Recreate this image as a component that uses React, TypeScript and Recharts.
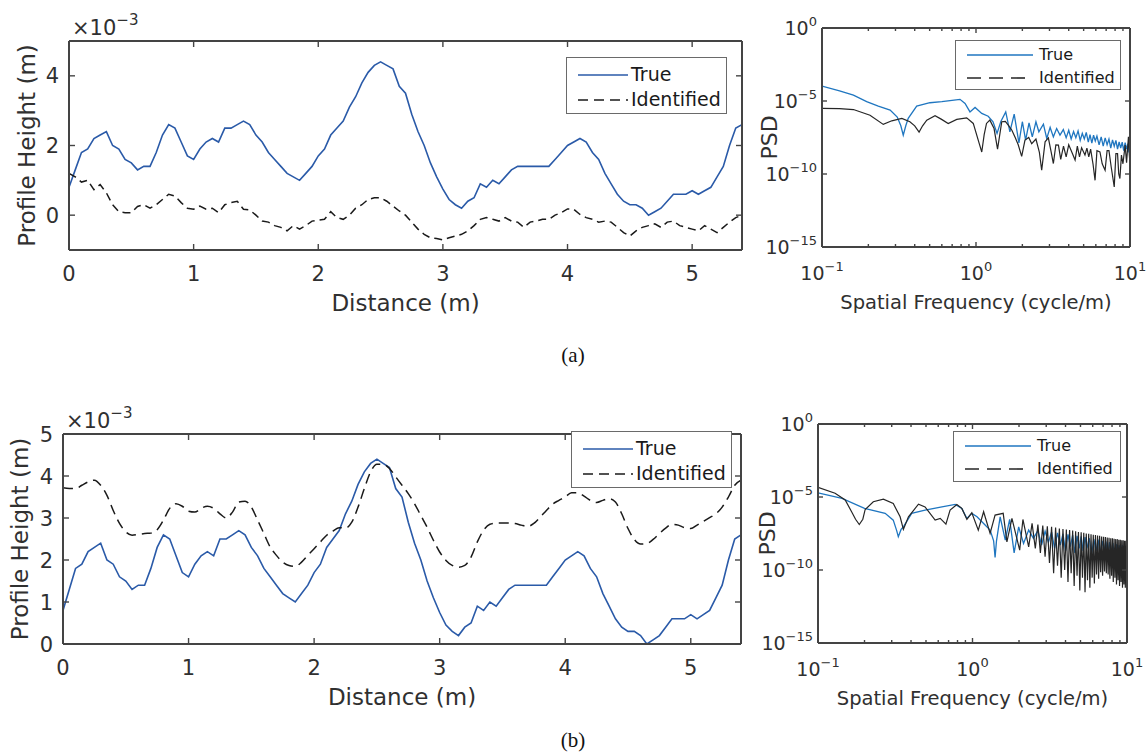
import React from "react";
import { LineChart, Line, XAxis, YAxis, Legend } from "recharts";

const FONT = "'DejaVu Sans', 'Noto Sans', sans-serif";
const AXIS_COLOR = "#444444";
const TEXT_COLOR = "#303030";
const BLUE_PROFILE = "#2a5aa8";
const BLUE_PSD = "#1f76c0";
const BLACK = "#1a1a1a";

const seriesNames = ["True", "Identified"];

// ---- road profile, height in units of 1e-3 m ----
const distance = [
  0, 0.05, 0.1, 0.15, 0.2, 0.25, 0.3, 0.35, 0.4, 0.45, 0.5, 0.55, 0.6, 0.65, 0.7, 0.75, 0.8, 0.85, 0.9, 0.95,
  1, 1.05, 1.1, 1.15, 1.2, 1.25, 1.3, 1.35, 1.4, 1.45, 1.5, 1.55, 1.6, 1.65, 1.7, 1.75, 1.8, 1.85, 1.9, 1.95,
  2, 2.05, 2.1, 2.15, 2.2, 2.25, 2.3, 2.35, 2.4, 2.45, 2.5, 2.55, 2.6, 2.65, 2.7, 2.75, 2.8, 2.85, 2.9, 2.95,
  3, 3.05, 3.1, 3.15, 3.2, 3.25, 3.3, 3.35, 3.4, 3.45, 3.5, 3.55, 3.6, 3.65, 3.7, 3.75, 3.8, 3.85, 3.9, 3.95,
  4, 4.05, 4.1, 4.15, 4.2, 4.25, 4.3, 4.35, 4.4, 4.45, 4.5, 4.55, 4.6, 4.65, 4.7, 4.75, 4.8, 4.85, 4.9, 4.95,
  5, 5.05, 5.1, 5.15, 5.2, 5.25, 5.3, 5.35, 5.4,
];

const trueProfile = [
  0.8, 1.3, 1.8, 1.9, 2.2, 2.3, 2.4, 2.0, 1.9, 1.6, 1.5, 1.3, 1.4, 1.4, 1.8, 2.3, 2.6, 2.5, 2.1, 1.7,
  1.6, 1.9, 2.1, 2.2, 2.1, 2.5, 2.5, 2.6, 2.7, 2.6, 2.3, 2.1, 1.8, 1.6, 1.4, 1.2, 1.1, 1.0, 1.2, 1.4,
  1.7, 1.9, 2.3, 2.5, 2.7, 3.1, 3.4, 3.8, 4.1, 4.3, 4.4, 4.3, 4.2, 3.7, 3.5, 2.9, 2.4, 2.0, 1.5, 1.1,
  0.75, 0.45, 0.3, 0.2, 0.4, 0.5, 0.9, 0.8, 1.0, 0.9, 1.1, 1.3, 1.4, 1.4, 1.4, 1.4, 1.4, 1.4, 1.6, 1.8,
  2.0, 2.1, 2.2, 2.1, 1.8, 1.6, 1.2, 0.9, 0.6, 0.4, 0.3, 0.3, 0.2, 0.0, 0.1, 0.2, 0.4, 0.6, 0.6, 0.6,
  0.7, 0.6, 0.7, 0.8, 1.1, 1.4, 2.0, 2.5, 2.6,
];

const identifiedA = [
  1.2, 1.1, 0.95, 1.0, 0.73, 0.88, 0.64, 0.3, 0.1, 0.07, 0.07, 0.25, 0.3, 0.2, 0.3, 0.45, 0.6, 0.55, 0.36, 0.2,
  0.17, 0.26, 0.17, 0.2, 0.07, 0.3, 0.36, 0.4, 0.17, 0.15, 0.0, -0.17, -0.2, -0.3, -0.35, -0.45, -0.3, -0.4, -0.3, -0.17,
  -0.14, -0.12, 0.1, -0.07, -0.12, 0.0, 0.2, 0.3, 0.45, 0.5, 0.5, 0.4, 0.26, 0.12, 0.0, -0.2, -0.4, -0.55, -0.65, -0.67,
  -0.71, -0.65, -0.6, -0.55, -0.45, -0.3, -0.12, -0.07, -0.12, -0.17, -0.07, -0.17, -0.2, -0.35, -0.2, -0.17, -0.12, -0.12, 0.0, 0.07,
  0.18, 0.17, 0.02, -0.07, -0.12, -0.2, -0.17, -0.2, -0.35, -0.5, -0.6, -0.45, -0.35, -0.3, -0.25, -0.35, -0.2, -0.17, -0.3, -0.35,
  -0.4, -0.45, -0.3, -0.4, -0.5, -0.35, -0.2, -0.07, 0.0,
];

const identifiedB = [
  3.72, 3.7, 3.7, 3.78, 3.86, 3.9, 3.78, 3.54, 3.18, 2.87, 2.67, 2.59, 2.61, 2.63, 2.64, 2.72, 2.95, 3.23, 3.34, 3.28,
  3.16, 3.14, 3.23, 3.28, 3.23, 3.1, 3.0, 3.14, 3.38, 3.4, 3.26, 2.95, 2.63, 2.31, 2.11, 1.95, 1.87, 1.85, 1.95, 2.11,
  2.27, 2.43, 2.59, 2.69, 2.77, 2.76, 2.9, 3.26, 3.7, 4.1, 4.28, 4.28, 4.18, 3.98, 3.78, 3.58, 3.34, 3.06, 2.78, 2.47,
  2.19, 1.99, 1.87, 1.83, 1.87, 2.07, 2.43, 2.71, 2.85, 2.88, 2.88, 2.88, 2.87, 2.83, 2.8, 2.87, 3.02, 3.18, 3.33, 3.42,
  3.5, 3.6, 3.6, 3.52, 3.42, 3.37, 3.42, 3.46, 3.38, 3.1, 2.75, 2.49, 2.38, 2.39, 2.49, 2.63, 2.76, 2.85, 2.83, 2.77,
  2.75, 2.83, 2.92, 3.01, 3.1, 3.26, 3.5, 3.78, 3.9,
];

const profileTicksX = [0, 1, 2, 3, 4, 5];
const profileTicksYA = [0, 2, 4];
const profileTicksYB = [0, 1, 2, 3, 4, 5];

// ---- PSD: [spatial frequency (cycle/m), PSD] ----
const psdTrueA: [number, number][] = [
  [0.1, 1.05e-4], [0.13, 5e-5], [0.16, 2.5e-5], [0.195, 9e-6], [0.232, 4.5e-6], [0.277, 2.4e-6], [0.308, 8e-7],
  [0.325, 2e-7], [0.337, 4.6e-8], [0.35, 2e-7], [0.363, 6.5e-7], [0.412, 4.5e-6], [0.502, 7.6e-6], [0.6, 9e-6],
  [0.678, 1.05e-5], [0.787, 1.3e-5], [0.849, 6.8e-6], [0.914, 1.8e-6], [0.986, 3.6e-6], [1.09, 1.4e-6], [1.2, 9e-7],
  [1.29, 3.8e-7], [1.37, 6e-8], [1.45, 4e-7], [1.56, 1.8e-6], [1.66, 7.8e-8], [1.77, 1.26e-6], [1.9, 1.35e-8],
  [2.0, 3.8e-7], [2.1, 2.1e-8], [2.21, 3.2e-7], [2.32, 3.5e-8], [2.45, 3.8e-7], [2.56, 7.8e-8], [2.74, 2.6e-7],
  [2.88, 2.7e-8], [3.03, 1.55e-7], [3.18, 3.5e-8], [3.34, 1.3e-7], [3.51, 4.6e-8], [3.69, 1.1e-7], [3.85, 3e-8],
  [4.0, 1e-7], [4.15, 2.5e-8], [4.3, 8e-8], [4.45, 3e-8], [4.6, 9e-8], [4.75, 2e-8], [4.9, 6e-8], [5.05, 2.5e-8],
  [5.2, 7e-8], [5.36, 1.5e-8], [5.5, 5e-8], [5.65, 1.3e-8], [5.8, 4.5e-8], [5.95, 1.8e-8], [6.1, 4e-8], [6.3, 1e-8],
  [6.5, 3.5e-8], [6.7, 8e-9], [6.9, 3e-8], [7.1, 1e-8], [7.3, 2.5e-8], [7.5, 6e-9], [7.7, 2.2e-8], [7.9, 8e-9],
  [8.1, 2e-8], [8.3, 5e-9], [8.5, 1.6e-8], [8.7, 6e-9], [8.9, 1.5e-8], [9.1, 4e-9], [9.3, 1.4e-8], [9.5, 5e-9],
  [9.7, 1.2e-8], [9.85, 3e-9], [10, 8e-9],
];

const psdIdentA: [number, number][] = [
  [0.1, 3.1e-6], [0.13, 3.0e-6], [0.16, 2.6e-6], [0.205, 1.07e-6], [0.25, 2.5e-7], [0.284, 4.4e-7], [0.33, 6.5e-7],
  [0.372, 3.8e-7], [0.4, 2e-7], [0.427, 7.4e-8], [0.45, 2e-7], [0.479, 4.9e-7], [0.542, 9.8e-7], [0.598, 5.5e-7],
  [0.66, 2.9e-7], [0.75, 5.5e-7], [0.87, 7e-7], [0.96, 2.9e-7], [1.05, 1.2e-8], [1.09, 3.2e-9], [1.13, 5e-8],
  [1.17, 2.9e-7], [1.23, 4.9e-7], [1.31, 1.3e-7], [1.38, 5e-9], [1.47, 3.8e-7], [1.55, 4e-7], [1.62, 2.2e-7],
  [1.71, 1e-7], [1.8, 3e-8], [1.88, 1e-8], [1.98, 1.6e-9], [2.08, 2.1e-8], [2.2, 3.2e-8], [2.3, 1.2e-8],
  [2.45, 2.5e-8], [2.58, 3e-9], [2.67, 1.8e-10], [2.81, 1.6e-8], [2.95, 3e-8], [3.08, 3e-9], [3.18, 5.2e-10],
  [3.3, 1e-8], [3.43, 9.5e-9], [3.55, 1e-9], [3.7, 8e-9], [3.85, 1.5e-9], [4.0, 1e-8], [4.2, 3e-9], [4.4, 9e-10],
  [4.55, 8e-9], [4.7, 1.5e-9], [4.85, 6.3e-9], [5.1, 2e-9], [5.25, 6e-9], [5.4, 1.5e-9], [5.55, 5e-9],
  [5.75, 5e-10], [5.93, 3.7e-11], [6.1, 4e-9], [6.38, 3.3e-9], [6.6, 5e-10], [6.89, 1.8e-10], [7.1, 4e-9],
  [7.3, 4e-9], [7.55, 3e-10], [7.9, 1.3e-11], [8.1, 2.5e-9], [8.3, 2.5e-9], [8.45, 1e-10], [8.6, 4.9e-11],
  [8.8, 2e-9], [9.0, 5e-10], [9.3, 9.5e-9], [9.5, 6e-10], [9.77, 3.5e-8], [9.9, 2e-9], [10, 5.2e-10],
];

const psdTrueB: [number, number][] = [
  [0.1, 1.95e-5], [0.143, 8e-6], [0.2, 1.66e-6], [0.272, 7.6e-7], [0.307, 2.6e-7], [0.323, 5e-8], [0.331, 1.9e-8],
  [0.345, 6e-8], [0.357, 9e-8], [0.404, 7.6e-7], [0.493, 1.26e-6], [0.634, 2.1e-6], [0.773, 3.1e-6],
  [0.853, 1.66e-6], [0.92, 3.4e-7], [0.99, 7.6e-7], [1.07, 4.4e-7], [1.18, 1.55e-7], [1.3, 5.4e-8], [1.37, 1e-8],
  [1.4, 7.2e-10], [1.43, 1e-8], [1.51, 4.4e-7], [1.63, 1.1e-8], [1.74, 2.9e-7], [1.86, 1.5e-9], [1.99, 9e-8],
  [2.14, 6.6e-9], [2.31, 5.4e-8], [2.48, 1.45e-8], [2.65, 5e-8], [2.8, 5e-9], [2.95, 4.5e-8], [3.1, 8e-9],
  [3.25, 4e-8], [3.4, 3e-9], [3.55, 3.5e-8], [3.7, 5e-9], [3.85, 3e-8], [4.0, 2e-9], [4.15, 2.8e-8], [4.3, 4e-9],
  [4.45, 2.5e-8], [4.6, 1.5e-9], [4.75, 2.2e-8], [4.9, 3e-9], [5.05, 2e-8], [5.2, 2e-9], [5.35, 1.8e-8],
  [5.5, 3e-9], [5.7, 1.5e-8], [5.9, 1.2e-9], [6.1, 1.3e-8], [6.3, 2e-9], [6.5, 1.2e-8], [6.7, 1e-9], [6.9, 1e-8],
  [7.1, 2e-9], [7.3, 9e-9], [7.5, 8e-10], [7.7, 8e-9], [7.9, 1.5e-9], [8.1, 7e-9], [8.3, 6e-10], [8.5, 6e-9],
  [8.7, 1.2e-9], [8.9, 5e-9], [9.1, 5e-10], [9.3, 5e-9], [9.5, 1e-9], [9.7, 4.5e-9], [9.85, 4e-10], [10, 3e-9],
];

const psdIdentB: [number, number][] = [
  [0.1, 4.6e-5], [0.129, 1.8e-5], [0.15, 6.2e-6], [0.165, 9.8e-7], [0.175, 3e-7], [0.185, 1.3e-7], [0.195, 3e-7],
  [0.202, 1.4e-6], [0.228, 4.7e-6], [0.265, 7.2e-6], [0.307, 3.6e-6], [0.34, 4.4e-7], [0.357, 6e-8],
  [0.385, 4.4e-7], [0.447, 3.2e-6], [0.493, 2.1e-6], [0.573, 2.6e-7], [0.618, 3.4e-7], [0.673, 1.4e-7],
  [0.716, 1.26e-6], [0.792, 3.1e-6], [0.853, 1.66e-6], [0.92, 2.9e-7], [0.99, 8.3e-7], [1.09, 5.4e-8],
  [1.18, 9.8e-7], [1.3, 3.2e-8], [1.4, 5.8e-7], [1.58, 7.6e-7], [1.67, 8.5e-9], [1.8, 3.4e-7], [2.02, 2.3e-9],
  [2.12, 2.9e-7], [2.31, 3.8e-9], [2.43, 1.55e-7], [2.55, 3e-9], [2.65, 1.3e-7], [2.75, 1.5e-9], [2.85, 1.1e-7],
  [2.95, 8e-10], [3.05, 1e-7], [3.15, 3e-10], [3.25, 9e-8], [3.35, 6e-11], [3.45, 8e-8], [3.55, 2e-10],
  [3.65, 7e-8], [3.75, 3e-11], [3.85, 6.5e-8], [3.95, 1e-10], [4.05, 6e-8], [4.15, 1.5e-11], [4.25, 5.5e-8],
  [4.35, 6e-11], [4.45, 5e-8], [4.55, 8e-12], [4.65, 4.5e-8], [4.75, 4e-11], [4.85, 4e-8], [4.95, 4e-12],
  [5.05, 3.8e-8], [5.15, 3e-11], [5.25, 3.5e-8], [5.35, 3e-12], [5.45, 3.2e-8], [5.55, 2e-11], [5.65, 3e-8],
  [5.75, 6e-12], [5.85, 2.8e-8], [5.95, 3e-11], [6.05, 2.6e-8], [6.15, 1.2e-11], [6.25, 2.5e-8], [6.35, 5e-11],
  [6.45, 2.3e-8], [6.55, 2.5e-11], [6.65, 2.2e-8], [6.75, 7e-11], [6.85, 2e-8], [6.95, 4e-11], [7.05, 1.9e-8],
  [7.15, 8e-11], [7.25, 1.8e-8], [7.35, 6e-11], [7.45, 1.7e-8], [7.55, 5e-11], [7.65, 1.6e-8], [7.75, 2.5e-11],
  [7.85, 1.5e-8], [7.95, 4e-11], [8.05, 1.5e-8], [8.15, 1.5e-11], [8.25, 1.4e-8], [8.35, 3e-11], [8.45, 1.3e-8],
  [8.55, 1e-11], [8.65, 1.3e-8], [8.75, 2e-11], [8.85, 1.2e-8], [8.95, 8e-12], [9.05, 1.2e-8], [9.15, 1.5e-11],
  [9.25, 1.1e-8], [9.35, 6e-12], [9.45, 1.1e-8], [9.55, 1e-11], [9.65, 1e-8], [9.75, 6e-12], [9.85, 1e-8],
  [9.95, 8e-12], [10, 1.2e-8],
];

const freqTicks = [
  0.1, 0.2, 0.3, 0.4, 0.5, 0.6, 0.7, 0.8, 0.9, 1, 2, 3, 4, 5, 6, 7, 8, 9, 10,
];
const psdTicksY = [1e-15, 1e-10, 1e-5, 1];

type Side = "bottom" | "top" | "left" | "right";
type Frame = { x: number; y: number; w: number; h: number };
type Pad = { l: number; r: number; t: number; b: number };

const isDecade = (v: number) => Math.abs(Math.log10(v) - Math.round(Math.log10(v))) < 1e-6;

function tickRenderer(
  side: Side,
  opts: { len: (v: number) => number; label?: (v: number) => React.ReactNode; gap?: number; fontSize?: number }
) {
  return (props: any) => {
    const { x, y, payload } = props;
    const v = payload.value as number;
    const L = opts.len(v);
    const dx = side === "left" ? L : side === "right" ? -L : 0;
    const dy = side === "bottom" ? -L : side === "top" ? L : 0;
    const content = opts.label ? opts.label(v) : null;
    const fs = opts.fontSize ?? 20;
    const gap = opts.gap ?? 0;
    return (
      <g>
        {L > 0 && <line x1={x} y1={y} x2={x + dx} y2={y + dy} stroke={AXIS_COLOR} strokeWidth={1.4} />}
        {content != null && (
          <text
            x={side === "left" ? x - gap : x}
            y={side === "bottom" ? y + gap : y + fs * 0.36}
            textAnchor={side === "left" ? "end" : "middle"}
            fontSize={fs}
            fill={TEXT_COLOR}
            fontFamily={FONT}
          >
            {content}
          </text>
        )}
      </g>
    );
  };
}

const logLabel = (v: number) => {
  if (!isDecade(v)) return null;
  const e = Math.round(Math.log10(v));
  return (
    <>
      <tspan>10</tspan>
      <tspan dy={-9} fontSize={13}>
        {e < 0 ? `\u2212${-e}` : `${e}`}
      </tspan>
    </>
  );
};

const axisLine = { stroke: AXIS_COLOR, strokeWidth: 2 };
// axes get a 1px band so that Recharts draws them; margins are reduced by the same amount
const AX = 1;

function LegendBox({
  width,
  height,
  fontSize,
  sampleLen,
  sampleGap,
  padLeft,
  padTop,
  rowH,
  colors,
  dashes,
}: {
  width: number;
  height: number;
  fontSize: number;
  sampleLen: number;
  sampleGap: number;
  padLeft: number;
  padTop: number;
  rowH: number;
  colors: string[];
  dashes: (string | undefined)[];
}) {
  return (
    <div
      style={{
        boxSizing: "border-box",
        width,
        height,
        border: "1px solid #6a6a6a",
        background: "#fff",
        paddingLeft: padLeft,
        paddingTop: padTop,
        fontFamily: FONT,
        fontSize,
        color: "#1a1a1a",
      }}
    >
      {seriesNames.map((name, i) => (
        <div key={name} style={{ display: "flex", alignItems: "center", height: rowH }}>
          <svg width={sampleLen} height={6} style={{ marginRight: sampleGap, overflow: "visible" }}>
            <line x1={0} y1={3} x2={sampleLen} y2={3} stroke={colors[i]} strokeWidth={1.6} strokeDasharray={dashes[i]} />
          </svg>
          <span style={{ display: "inline-block", height: fontSize, lineHeight: `${fontSize}px` }}>{name}</span>
        </div>
      ))}
    </div>
  );
}

function ProfilePanel({
  frame,
  identified,
  yDomain,
  yTicks,
  identDash,
  identCurve,
  legend,
  yTitleOffset,
}: {
  frame: Frame;
  identified: number[];
  yDomain: [number, number];
  yTicks: number[];
  identDash: string;
  identCurve: "linear" | "monotone";
  legend: { x: number; y: number; w: number; h: number; padTop: number; rowH: number };
  yTitleOffset: number;
}) {
  const pad: Pad = { l: 68, r: 12, t: 44, b: 76 };
  const W = frame.w + pad.l + pad.r;
  const H = frame.h + pad.t + pad.b;
  const rows = distance.map((d, i) => ({ d, t: trueProfile[i], id: identified[i] }));
  const fs = 21;
  return (
    <div style={{ position: "absolute", left: frame.x - pad.l, top: frame.y - pad.t }}>
      <LineChart
        width={W}
        height={H}
        data={rows}
        margin={{ top: pad.t - AX, right: pad.r - AX, bottom: pad.b - AX, left: pad.l - AX }}
      >
        <XAxis
          xAxisId="b"
          dataKey="d"
          type="number"
          domain={[0, 5.4]}
          allowDataOverflow
          ticks={profileTicksX}
          interval={0}
          height={AX}
          tickSize={0}
          tickMargin={0}
          tickLine={false}
          axisLine={axisLine}
          tick={tickRenderer("bottom", { len: () => 6, label: (v) => `${v}`, gap: 31, fontSize: fs })}
          label={() => (
            <text
              x={pad.l + frame.w / 2}
              y={pad.t + frame.h + 61}
              textAnchor="middle"
              fontSize={23}
              fill={TEXT_COLOR}
              fontFamily={FONT}
            >
              Distance (m)
            </text>
          )}
        />
        <XAxis
          xAxisId="t"
          orientation="top"
          dataKey="d"
          type="number"
          domain={[0, 5.4]}
          allowDataOverflow
          ticks={profileTicksX}
          interval={0}
          height={AX}
          tickSize={0}
          tickMargin={0}
          tickLine={false}
          axisLine={axisLine}
          tick={tickRenderer("top", { len: () => 6 })}
        />
        <YAxis
          yAxisId="l"
          type="number"
          domain={yDomain}
          allowDataOverflow
          ticks={yTicks}
          interval={0}
          width={AX}
          tickSize={0}
          tickMargin={0}
          tickLine={false}
          axisLine={axisLine}
          tick={tickRenderer("left", { len: () => 6, label: (v) => `${v}`, gap: 10, fontSize: fs })}
          label={() => (
            <text
              transform={`translate(${pad.l - yTitleOffset}, ${pad.t + frame.h / 2}) rotate(-90)`}
              textAnchor="middle"
              dy={8}
              fontSize={23}
              fill={TEXT_COLOR}
              fontFamily={FONT}
            >
              Profile Height (m)
            </text>
          )}
        />
        <YAxis
          yAxisId="r"
          orientation="right"
          type="number"
          domain={yDomain}
          allowDataOverflow
          ticks={yTicks}
          interval={0}
          width={AX}
          tickSize={0}
          tickMargin={0}
          tickLine={false}
          axisLine={axisLine}
          tick={tickRenderer("right", { len: () => 6 })}
          label={() => (
            <text x={pad.l + 3} y={pad.t - 6} fontSize={21} fill={TEXT_COLOR} fontFamily={FONT}>
              <tspan>{"\u00d710"}</tspan>
              <tspan dy={-10} fontSize={15}>
                {"\u22123"}
              </tspan>
            </text>
          )}
        />
        <Line
          xAxisId="b"
          yAxisId="l"
          dataKey="t"
          name={seriesNames[0]}
          type="linear"
          stroke={BLUE_PROFILE}
          strokeWidth={1.6}
          dot={false}
          isAnimationActive={false}
        />
        <Line
          xAxisId="b"
          yAxisId="l"
          dataKey="id"
          name={seriesNames[1]}
          type={identCurve}
          stroke={BLACK}
          strokeWidth={1.5}
          strokeDasharray={identDash}
          dot={false}
          isAnimationActive={false}
        />
        <Legend
          layout="vertical"
          align="center"
          verticalAlign="middle"
          wrapperStyle={{ left: legend.x - (frame.x - pad.l), top: legend.y - (frame.y - pad.t), width: legend.w, height: legend.h }}
          content={() => (
            <LegendBox
              width={legend.w}
              height={legend.h}
              fontSize={19}
              sampleLen={50}
              sampleGap={3}
              padLeft={11}
              padTop={legend.padTop}
              rowH={legend.rowH}
              colors={[BLUE_PROFILE, BLACK]}
              dashes={[undefined, "10 6"]}
            />
          )}
        />
      </LineChart>
    </div>
  );
}

function PsdPanel({
  frame,
  trueSeries,
  identSeries,
  legend,
  yTitleOffset,
}: {
  frame: Frame;
  trueSeries: [number, number][];
  identSeries: [number, number][];
  legend: { x: number; y: number; w: number; h: number };
  yTitleOffset: number;
}) {
  const pad: Pad = { l: 76, r: 20, t: 30, b: 72 };
  const W = frame.w + pad.l + pad.r;
  const H = frame.h + pad.t + pad.b;
  const trueRows = trueSeries.map(([f, v]) => ({ f, v }));
  const identRows = identSeries.map(([f, v]) => ({ f, v }));
  const fs = 19;
  const xLen = (v: number) => (isDecade(v) ? 5 : 3);
  return (
    <div style={{ position: "absolute", left: frame.x - pad.l, top: frame.y - pad.t }}>
      <LineChart
        width={W}
        height={H}
        margin={{ top: pad.t - AX, right: pad.r - AX, bottom: pad.b - AX, left: pad.l - AX }}
      >
        <XAxis
          xAxisId="b"
          dataKey="f"
          type="number"
          scale="log"
          domain={[0.1, 10]}
          allowDataOverflow
          ticks={freqTicks}
          interval={0}
          height={AX}
          tickSize={0}
          tickMargin={0}
          tickLine={false}
          axisLine={axisLine}
          tick={tickRenderer("bottom", { len: xLen, label: logLabel, gap: 33, fontSize: fs })}
          label={() => (
            <text
              x={pad.l + frame.w / 2}
              y={pad.t + frame.h + 62}
              textAnchor="middle"
              fontSize={19.5}
              fill={TEXT_COLOR}
              fontFamily={FONT}
            >
              Spatial Frequency (cycle/m)
            </text>
          )}
        />
        <XAxis
          xAxisId="t"
          orientation="top"
          dataKey="f"
          type="number"
          scale="log"
          domain={[0.1, 10]}
          allowDataOverflow
          ticks={freqTicks}
          interval={0}
          height={AX}
          tickSize={0}
          tickMargin={0}
          tickLine={false}
          axisLine={axisLine}
          tick={tickRenderer("top", { len: xLen })}
        />
        <YAxis
          yAxisId="l"
          type="number"
          scale="log"
          domain={[1e-15, 1]}
          allowDataOverflow
          ticks={psdTicksY}
          interval={0}
          width={AX}
          tickSize={0}
          tickMargin={0}
          tickLine={false}
          axisLine={axisLine}
          tick={tickRenderer("left", { len: () => 5, label: logLabel, gap: 5, fontSize: fs })}
          label={() => (
            <text
              transform={`translate(${pad.l - yTitleOffset}, ${pad.t + frame.h / 2}) rotate(-90)`}
              textAnchor="middle"
              dy={8}
              fontSize={22}
              fill={TEXT_COLOR}
              fontFamily={FONT}
            >
              PSD
            </text>
          )}
        />
        <YAxis
          yAxisId="r"
          orientation="right"
          type="number"
          scale="log"
          domain={[1e-15, 1]}
          allowDataOverflow
          ticks={psdTicksY}
          interval={0}
          width={AX}
          tickSize={0}
          tickMargin={0}
          tickLine={false}
          axisLine={axisLine}
          tick={tickRenderer("right", { len: () => 5 })}
        />
        <Line
          xAxisId="b"
          yAxisId="l"
          data={trueRows}
          dataKey="v"
          name={seriesNames[0]}
          type="linear"
          stroke={BLUE_PSD}
          strokeWidth={1.3}
          dot={false}
          isAnimationActive={false}
        />
        <Line
          xAxisId="b"
          yAxisId="l"
          data={identRows}
          dataKey="v"
          name={seriesNames[1]}
          type="linear"
          stroke="#262626"
          strokeWidth={1.2}
          dot={false}
          isAnimationActive={false}
        />
        <Legend
          layout="vertical"
          align="center"
          verticalAlign="middle"
          wrapperStyle={{ left: legend.x - (frame.x - pad.l), top: legend.y - (frame.y - pad.t), width: legend.w, height: legend.h }}
          content={() => (
            <LegendBox
              width={legend.w}
              height={legend.h}
              fontSize={16}
              sampleLen={66}
              sampleGap={6}
              padLeft={11}
              padTop={3}
              rowH={22.7}
              colors={[BLUE_PSD, "#262626"]}
              dashes={[undefined, "14 8"]}
            />
          )}
        />
      </LineChart>
    </div>
  );
}

const caption: React.CSSProperties = {
  position: "absolute",
  width: 60,
  marginLeft: -30,
  textAlign: "center",
  fontFamily: "'Liberation Serif', 'DejaVu Serif', serif",
  fontSize: 21,
  color: "#111",
  lineHeight: 1,
};

export default function App() {
  return (
    <div style={{ position: "absolute", left: 0, top: 0, width: 1146, height: 753, background: "#fff", overflow: "hidden" }}>
      <ProfilePanel
        frame={{ x: 69, y: 41, w: 673, h: 209 }}
        identified={identifiedA}
        yDomain={[-1, 5]}
        yTicks={profileTicksYA}
        identDash="8 5"
        identCurve="linear"
        legend={{ x: 566, y: 57, w: 161, h: 57, padTop: 4, rowH: 25 }}
        yTitleOffset={42}
      />
      <PsdPanel
        frame={{ x: 822, y: 28, w: 308, h: 219 }}
        trueSeries={psdTrueA}
        identSeries={psdIdentA}
        legend={{ x: 955, y: 40, w: 166, h: 50 }}
        yTitleOffset={53}
      />
      <ProfilePanel
        frame={{ x: 63, y: 434, w: 678, h: 210 }}
        identified={identifiedB}
        yDomain={[0, 5]}
        yTicks={profileTicksYB}
        identDash="10 6"
        identCurve="monotone"
        legend={{ x: 571, y: 431, w: 161, h: 57, padTop: 4, rowH: 25 }}
        yTitleOffset={43}
      />
      <PsdPanel
        frame={{ x: 818, y: 424, w: 309, h: 219 }}
        trueSeries={psdTrueB}
        identSeries={psdIdentB}
        legend={{ x: 953, y: 431, w: 168, h: 51 }}
        yTitleOffset={51}
      />
      <div style={{ ...caption, left: 573, top: 345 }}>(a)</div>
      <div style={{ ...caption, left: 573, top: 730 }}>(b)</div>
    </div>
  );
}
